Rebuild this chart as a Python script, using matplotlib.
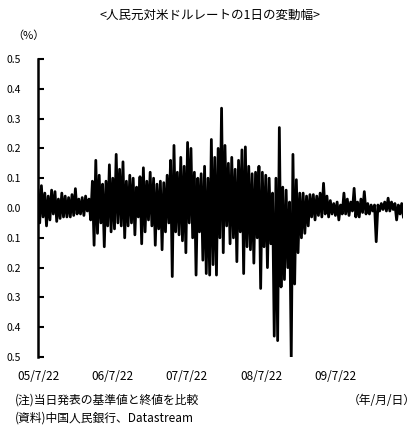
import pandas as pd
import matplotlib.pyplot as plt
import matplotlib.dates as mdates
from matplotlib.ticker import FuncFormatter

plt.rcParams['font.family'] = ['Noto Sans CJK JP', 'DejaVu Sans']

# ------------------------------
# Data: daily change of CNY/USD (%)
# ------------------------------
start_date = "2005-07-22"
end_date = "2010-06-18"

chg_y1 = [0.06, -0.05, 0.075, -0.03, 0.05, -0.06,
          0.04, -0.04, 0.06, -0.02, 0.055, -0.045,
          0.03, -0.035, 0.05, -0.03, 0.04, -0.03,
          0.035, -0.03, 0.045, -0.025, 0.065, -0.02,
          0.03, -0.02, 0.035, -0.025, 0.04, -0.01,
          0.03, -0.04, 0.09, -0.125, 0.16, -0.085,
          0.11, -0.05, 0.08, -0.13, 0.09, -0.06]
chg_y2 = [0.145, -0.08, 0.1, -0.07, 0.18, -0.05,
          0.13, -0.06, 0.155, -0.1, 0.09, -0.06,
          0.11, -0.05, 0.1, -0.09, 0.07, -0.03,
          0.105, -0.12, 0.135, -0.08, 0.09, -0.04,
          0.12, -0.06, 0.1, -0.125, 0.08, -0.07,
          0.09, -0.14, 0.085, -0.08, 0.11, -0.05,
          0.16, -0.23, 0.21, -0.08, 0.12, -0.09]
chg_y3 = [0.17, -0.11, 0.14, -0.15, 0.22, -0.05,
          0.2, -0.1, 0.12, -0.225, 0.1, -0.08,
          0.115, -0.175, 0.14, -0.22, 0.1, -0.225,
          0.23, -0.19, 0.17, -0.225, 0.2, -0.1,
          0.335, -0.15, 0.21, -0.06, 0.15, -0.12,
          0.17, -0.1, 0.13, -0.18, 0.16, -0.08,
          0.195, -0.22, 0.205, -0.13, 0.14, -0.14]
chg_y4 = [0.115, -0.185, 0.12, -0.1, 0.14, -0.27,
          0.12, -0.13, 0.11, -0.2, 0.1, -0.12,
          0.05, -0.43, 0.1, -0.445, 0.27, -0.265,
          0.07, -0.24, 0.06, -0.2, 0.02, -0.505,
          0.18, -0.255, 0.095, -0.15, 0.05, -0.1,
          0.05, -0.085, 0.04, -0.06, 0.045, -0.03,
          0.045, -0.04, 0.04, -0.025, 0.05, -0.03]
chg_y5 = [0.083, -0.02, 0.04, -0.03, 0.025, -0.02,
          0.015, -0.025, 0.02, -0.04, 0.01, -0.02,
          0.05, -0.02, 0.03, -0.025, 0.02, -0.01,
          0.066, -0.03, 0.02, -0.03, 0.03, -0.015,
          0.055, -0.02, 0.015, -0.02, 0.01, -0.01,
          0.01, -0.113, 0.01, -0.01, 0.015, -0.005,
          0.02, -0.01, 0.033, -0.01, 0.02, -0.005,
          0.015, -0.04, 0.01, -0.02, 0.015, -0.03]

tick_dates = ["2005-07-22", "2006-07-22", "2007-07-22", "2008-07-22", "2009-07-22"]

values = chg_y1 + chg_y2 + chg_y3 + chg_y4 + chg_y5
dates = pd.date_range(start_date, end_date, periods=len(values))


def date_label(v, pos):
    d = mdates.num2date(v)
    return f"{d:%y}/{d.month}/{d.day}"


# ------------------------------
# Plot
# ------------------------------
fig = plt.figure(figsize=(4.2, 4.32), dpi=100)
ax = fig.add_axes([0.0905, 0.1736, 0.87, 0.6898])

ax.plot(dates, values, color="black", linewidth=2.0)

ax.set_ylim(-0.5, 0.5)
ax.set_yticks([-0.5, -0.4, -0.3, -0.2, -0.1, 0.0, 0.1, 0.2, 0.3, 0.4, 0.5])
ax.yaxis.set_major_formatter(FuncFormatter(lambda v, p: f"{abs(v):.1f}"))
ax.tick_params(axis="y", direction="in", length=4, width=1.5, labelsize=7.5, pad=12)

ax.set_xlim(pd.Timestamp(start_date), pd.Timestamp(end_date))
ax.set_xticks(pd.to_datetime(tick_dates))
ax.xaxis.set_major_formatter(FuncFormatter(date_label))
ax.tick_params(axis="x", length=0, labelsize=8.5, pad=9)

for side in ["top", "right", "bottom"]:
    ax.spines[side].set_visible(False)
ax.spines["left"].set_linewidth(1.8)

fig.text(0.5, 0.965, "<人民元対米ドルレートの1日の変動幅>", ha="center", va="center", fontsize=9)
fig.text(0.03, 0.918, "（%）", ha="left", va="center", fontsize=8)
fig.text(0.035, 0.073, "(注)当日発表の基準値と終値を比較", ha="left", va="center", fontsize=8.5)
fig.text(0.035, 0.032, "(資料)中国人民銀行、Datastream", ha="left", va="center", fontsize=8.5)
fig.text(0.99, 0.073, "（年/月/日）", ha="right", va="center", fontsize=8.5)

plt.savefig("out.png", dpi=100)
